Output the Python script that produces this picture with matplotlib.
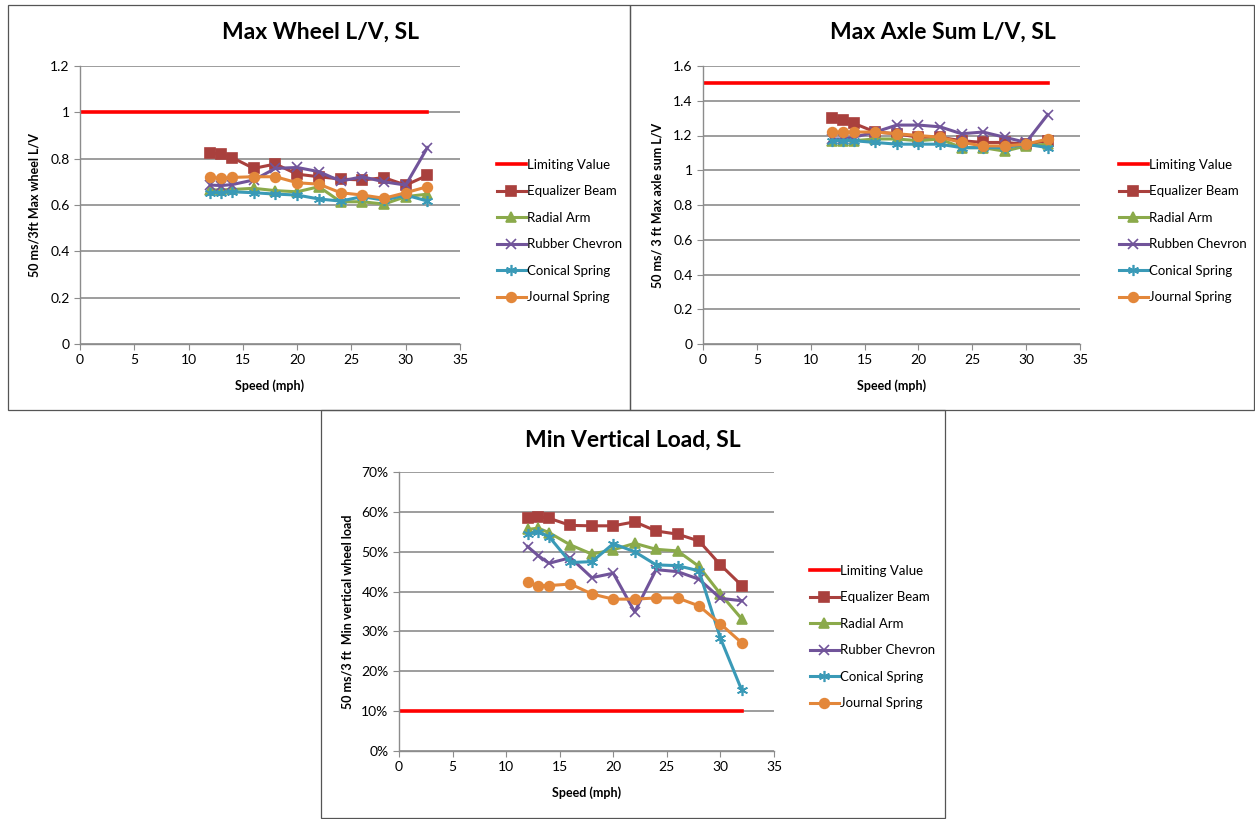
import matplotlib
matplotlib.use("Agg")
import matplotlib.pyplot as plt
from matplotlib.patches import Rectangle
from matplotlib.ticker import FuncFormatter

plt.rcParams["font.family"] = ["Lato", "DejaVu Sans"]

# shared x values (speed, mph)
speed = [12, 13, 14, 16, 18, 20, 22, 24, 26, 28, 30, 32]
series_names = ["Equalizer Beam", "Radial Arm", "Rubber Chevron", "Conical Spring", "Journal Spring"]

# Max Wheel L/V
wheel_limit = 1.0
wheel_equalizer = [0.825, 0.818, 0.805, 0.758, 0.777, 0.733, 0.722, 0.712, 0.708, 0.718, 0.686, 0.728]
wheel_radial = [0.665, 0.665, 0.667, 0.672, 0.662, 0.657, 0.679, 0.614, 0.614, 0.604, 0.636, 0.647]
wheel_rubber = [0.686, 0.684, 0.688, 0.708, 0.758, 0.762, 0.744, 0.703, 0.722, 0.700, 0.686, 0.848]
wheel_conical = [0.653, 0.653, 0.657, 0.653, 0.647, 0.643, 0.626, 0.617, 0.636, 0.621, 0.643, 0.617]
wheel_journal = [0.719, 0.715, 0.719, 0.722, 0.722, 0.696, 0.690, 0.653, 0.643, 0.629, 0.653, 0.679]

# Max Axle Sum L/V
axle_limit = 1.5
axle_equalizer = [1.30, 1.29, 1.27, 1.22, 1.21, 1.19, 1.19, 1.17, 1.16, 1.16, 1.15, 1.17]
axle_radial = [1.17, 1.17, 1.17, 1.18, 1.18, 1.17, 1.18, 1.13, 1.13, 1.11, 1.14, 1.15]
axle_rubber = [1.18, 1.18, 1.19, 1.22, 1.26, 1.26, 1.25, 1.21, 1.22, 1.19, 1.16, 1.32]
axle_conical = [1.17, 1.17, 1.17, 1.16, 1.15, 1.15, 1.15, 1.13, 1.13, 1.13, 1.15, 1.13]
axle_journal = [1.22, 1.22, 1.22, 1.22, 1.21, 1.20, 1.19, 1.16, 1.14, 1.14, 1.15, 1.18]

# Min Vertical Load (fraction)
load_limit = 0.10
load_equalizer = [0.584, 0.588, 0.584, 0.566, 0.565, 0.565, 0.575, 0.552, 0.544, 0.527, 0.467, 0.415]
load_radial = [0.556, 0.559, 0.548, 0.517, 0.494, 0.505, 0.521, 0.506, 0.502, 0.463, 0.394, 0.331]
load_rubber = [0.513, 0.490, 0.471, 0.485, 0.435, 0.446, 0.349, 0.455, 0.450, 0.431, 0.383, 0.377]
load_conical = [0.544, 0.550, 0.538, 0.473, 0.475, 0.520, 0.500, 0.467, 0.465, 0.452, 0.283, 0.152]
load_journal = [0.423, 0.415, 0.415, 0.419, 0.394, 0.381, 0.381, 0.384, 0.384, 0.364, 0.319, 0.271]

colors = ["#A9403D", "#8BAA4B", "#71549A", "#3A9AB7", "#E3873A"]
markers = ["s", "^", "x", (6, 2, 0), "o"]
msizes = [7, 7, 7, 8, 7]

W, H = 1255, 819
fig = plt.figure(figsize=(W / 100, H / 100), dpi=100)


def px_box(left, top, right, bottom):
    return [left / W, 1 - bottom / H, (right - left) / W, (bottom - top) / H]


def draw_panel(box, title, title_xy, ylabel, ylabel_x, xlabel_y, ymax, ystep, limit,
               data, names, legend_xy, yfmt):
    ax = fig.add_axes(box)
    ax.plot([0, 32], [limit, limit], color="#FF0000", lw=2.6, label="Limiting Value")
    for vals, name, c, m, ms in zip(data, names, colors, markers, msizes):
        ax.plot(speed, vals, color=c, lw=2.2, marker=m, markersize=ms,
                markeredgecolor=c, markeredgewidth=1.2, label=name)
    ax.set_xlim(0, 35)
    ax.set_ylim(0, ymax)
    ax.set_xticks(range(0, 36, 5))
    nt = int(round(ymax / ystep))
    ax.set_yticks([i * ystep for i in range(nt + 1)])
    ax.yaxis.set_major_formatter(FuncFormatter(yfmt))
    ax.grid(axis="y", color="#8C8C8C", lw=1.2)
    ax.set_axisbelow(True)
    for s in ["top", "right"]:
        ax.spines[s].set_visible(False)
    for s in ["left", "bottom"]:
        ax.spines[s].set_color("#8C8C8C")
        ax.spines[s].set_linewidth(1.0)
    ax.tick_params(colors="#8C8C8C", labelcolor="black", labelsize=10, length=4)
    fig.text(title_xy[0] / W, 1 - title_xy[1] / H, title, ha="center", va="center",
             fontsize=16.5, fontweight="bold")
    fig.text(ylabel_x / W, box[1] + box[3] / 2, ylabel, rotation=90, ha="center",
             va="center", fontsize=9, fontweight="bold")
    fig.text((box[0] + box[2] / 2), 1 - xlabel_y / H, "Speed (mph)", ha="center",
             va="center", fontsize=9, fontweight="bold")
    ax.legend(loc="center left", bbox_to_anchor=(legend_xy[0] / W, 1 - legend_xy[1] / H),
              bbox_transform=fig.transFigure, frameon=False, fontsize=9.5,
              handlelength=2.2, handletextpad=0.1, labelspacing=1.1, borderpad=0)
    return ax


def dec_fmt(v, pos):
    return f"{v:g}"


def pct_fmt(v, pos):
    return f"{v * 100:.0f}%"


draw_panel(px_box(80, 66, 460, 344), "Max Wheel L/V, SL", (320, 32),
           "50 ms/3ft Max wheel L/V", 35, 386, 1.2, 0.2, wheel_limit,
           [wheel_equalizer, wheel_radial, wheel_rubber, wheel_conical, wheel_journal],
           series_names, (490, 231), dec_fmt)

draw_panel(px_box(703, 66, 1080, 344), "Max Axle Sum L/V, SL", (943, 32),
           "50 ms/ 3 ft Max axle sum L/V", 658, 386, 1.6, 0.2, axle_limit,
           [axle_equalizer, axle_radial, axle_rubber, axle_conical, axle_journal],
           ["Equalizer Beam", "Radial Arm", "Rubben Chevron", "Conical Spring", "Journal Spring"],
           (1112, 231), dec_fmt)

draw_panel(px_box(399, 472, 774, 751), "Min Vertical Load, SL", (633, 440),
           "50 ms/3 ft  Min vertical wheel load", 347, 793, 0.7, 0.1, load_limit,
           [load_equalizer, load_radial, load_rubber, load_conical, load_journal],
           series_names, (803, 637), pct_fmt)

# panel frames
for l, t, r, b in [(8, 5, 630, 410), (630, 5, 1254, 410), (321, 410, 945, 818)]:
    fig.add_artist(Rectangle((l / W, 1 - b / H), (r - l) / W, (b - t) / H,
                             transform=fig.transFigure, fill=False,
                             edgecolor="#555555", lw=0.9))

fig.savefig("out.png", dpi=100)
